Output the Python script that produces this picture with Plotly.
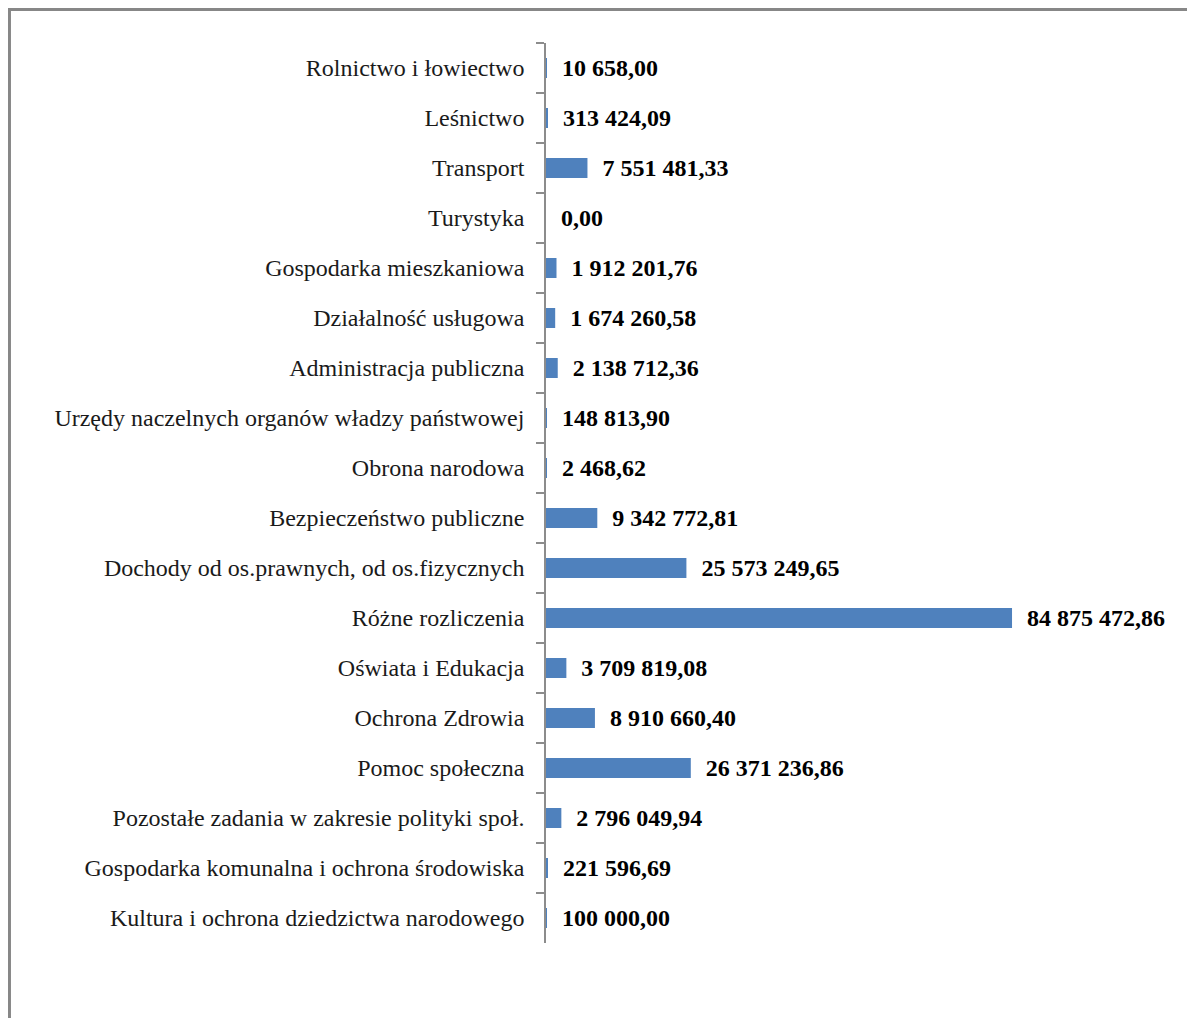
import plotly.graph_objects as go

categories = [
    "Rolnictwo i łowiectwo",
    "Leśnictwo",
    "Transport",
    "Turystyka",
    "Gospodarka mieszkaniowa",
    "Działalność usługowa",
    "Administracja publiczna",
    "Urzędy naczelnych organów władzy państwowej",
    "Obrona narodowa",
    "Bezpieczeństwo publiczne",
    "Dochody od os.prawnych, od os.fizycznych",
    "Różne rozliczenia",
    "Oświata i Edukacja",
    "Ochrona Zdrowia",
    "Pomoc społeczna",
    "Pozostałe zadania w zakresie polityki społ.",
    "Gospodarka komunalna i ochrona środowiska",
    "Kultura i ochrona dziedzictwa narodowego",
]

values = [
    10658.00, 313424.09, 7551481.33, 0.00, 1912201.76, 1674260.58,
    2138712.36, 148813.90, 2468.62, 9342772.81, 25573249.65, 84875472.86,
    3709819.08, 8910660.40, 26371236.86, 2796049.94, 221596.69, 100000.00,
]

title_text = "Realizacja  dochodów budżetowych wg działów  za 2014 r."


def pl_format(v):
    # 1234567.8 -> "1 234 567,80"
    s = f"{v:,.2f}"
    return s.replace(",", " ").replace(".", ",")


labels = ["  " + pl_format(v) for v in values]

FONT = "Liberation Serif, Times New Roman, serif"

fig = go.Figure()

fig.add_trace(
    go.Bar(
        y=categories,
        x=values,
        orientation="h",
        width=0.4,
        marker=dict(color="#4F81BD", line=dict(width=0)),
        text=labels,
        textposition="outside",
        textfont=dict(family=FONT, size=24, color="#000000", weight="bold"),
        constraintext="none",
        cliponaxis=False,
        showlegend=False,
    )
)

# outer frame of the chart area
fig.add_shape(
    type="rect",
    xref="paper", yref="paper",
    x0=-0.8267, x1=1.05, y0=-0.2, y1=1.0372,
    line=dict(color="#878787", width=3),
    fillcolor="rgba(0,0,0,0)",
    layer="below",
)

# title, mostly cut off at the top of the page
fig.add_annotation(
    text=title_text,
    xref="paper", yref="paper",
    x=0.13, y=1.0375,
    xanchor="left", yanchor="bottom",
    showarrow=False,
    font=dict(family=FONT, size=22, color="#000000", weight="bold", style="italic"),
)

fig.update_layout(
    width=1187,
    height=1010,
    margin=dict(l=538, r=0, t=35, b=75),
    paper_bgcolor="white",
    plot_bgcolor="white",
    bargap=0.6,
    xaxis=dict(
        range=[0, 118.2e6],
        visible=False,
        showgrid=False,
        zeroline=False,
    ),
    yaxis=dict(
        categoryorder="array",
        categoryarray=categories,
        autorange="reversed",
        showline=True,
        linecolor="#8c8c8c",
        linewidth=1.5,
        ticks="outside",
        tickson="boundaries",
        ticklen=8,
        tickcolor="#8c8c8c",
        tickwidth=1.5,
        ticklabelstandoff=15,
        showgrid=False,
        tickfont=dict(family=FONT, size=24, color="#1a1a1a"),
    ),
)

fig.write_html("out.html")
